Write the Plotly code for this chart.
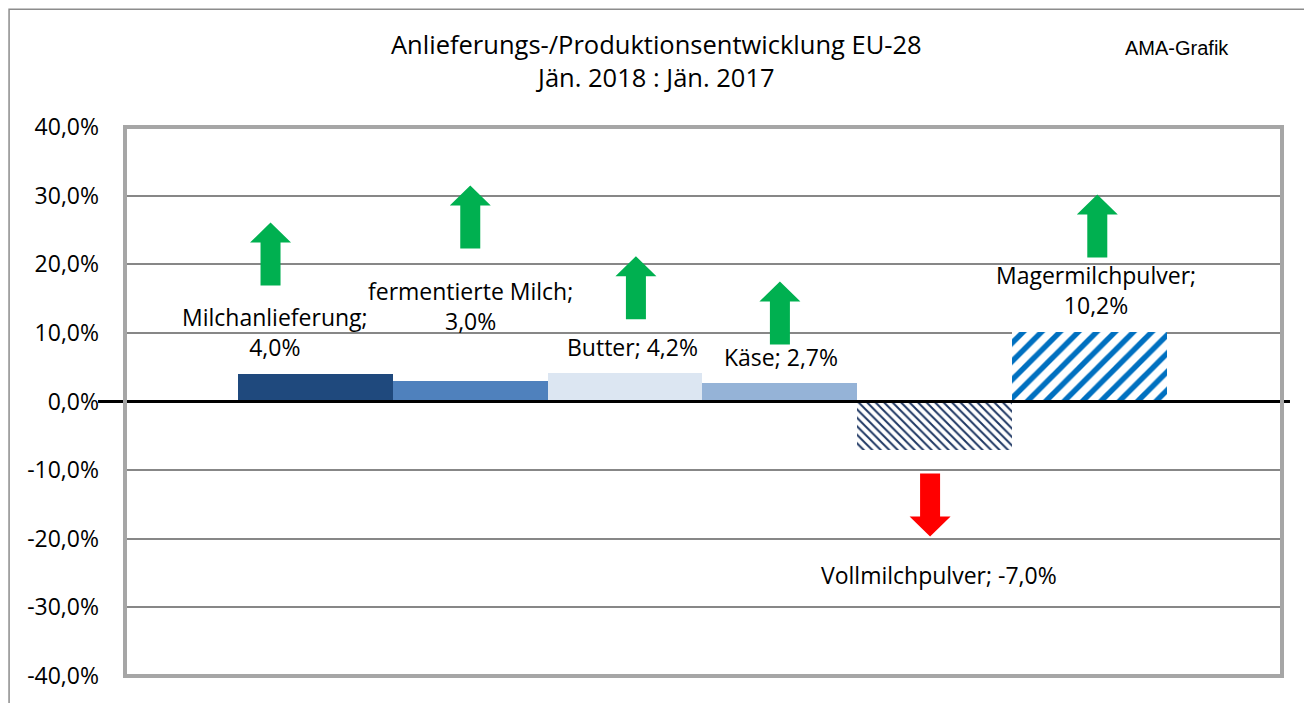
import plotly.graph_objects as go

# data
produkte = ["Milchanlieferung", "fermentierte Milch", "Butter", "Käse",
            "Vollmilchpulver", "Magermilchpulver"]
veraenderung = [0.040, 0.030, 0.042, 0.027, -0.070, 0.102]
label_text = ["Milchanlieferung;<br>4,0%", "fermentierte Milch;<br>3,0%",
              "Butter; 4,2%", "Käse; 2,7%", "Vollmilchpulver; -7,0%",
              "Magermilchpulver;<br>10,2%"]
y_ticks = [-0.4, -0.3, -0.2, -0.1, 0.0, 0.1, 0.2, 0.3, 0.4]
y_ticktext = ["-40,0%", "-30,0%", "-20,0%", "-10,0%", "0,0%",
              "10,0%", "20,0%", "30,0%", "40,0%"]

farben = ["#1F497D", "#4F81BD", "#DCE6F2", "#95B3D7", "#FFFFFF", "#FFFFFF"]
muster = ["", "", "", "", "\\", "/"]
muster_fg = ["#1F497D", "#4F81BD", "#DCE6F2", "#95B3D7", "#1F3864", "#0070C0"]
muster_size = [8, 8, 8, 8, 6, 13]
muster_sol = [0.3, 0.3, 0.3, 0.3, 0.33, 0.42]

# manually placed labels / arrows (offset from bar centre, y position)
label_dx = [-0.26, 0.0, 0.05, 0.01, 0.03, 0.04]
label_y = [0.102, 0.139, 0.079, 0.065, -0.253, 0.163]
pfeil_dx = [-0.29, 0.0, 0.07, 0.0, -0.03, 0.05]
pfeil_y = [0.169, 0.223, 0.120, 0.083, -0.105, 0.210]

x = list(range(len(produkte)))

fig = go.Figure()
for i in x:
    if muster[i]:
        marker = dict(color=farben[i], line=dict(width=0),
                      pattern=dict(shape=muster[i], fgcolor=muster_fg[i],
                                   bgcolor=farben[i], size=muster_size[i],
                                   solidity=muster_sol[i], fgopacity=1))
    else:
        marker = dict(color=farben[i], line=dict(width=0))
    fig.add_trace(go.Bar(x=[x[i]], y=[veraenderung[i]], width=1, marker=marker,
                         name=produkte[i], showlegend=False))

font = "Open Sans"
for i, t in enumerate(label_text):
    fig.add_annotation(x=x[i] + label_dx[i], y=label_y[i], text=t,
                       showarrow=False, xref="x", yref="y",
                       font=dict(family=font, size=23, color="#000000"))

up = "M -10 0 L 10 0 L 10 43 L 20.5 43 L 0 63 L -20.5 43 L -10 43 Z"
down = "M -10 0 L 10 0 L 10 -43 L 20.5 -43 L 0 -63 L -20.5 -43 L -10 -43 Z"
for i, v in enumerate(veraenderung):
    fig.add_shape(type="path", xref="x", yref="y",
                  xsizemode="pixel", ysizemode="pixel",
                  xanchor=x[i] + pfeil_dx[i], yanchor=pfeil_y[i],
                  path=up if v >= 0 else down,
                  fillcolor="#00B050" if v >= 0 else "#FF0000",
                  line=dict(width=0), layer="above")

# zero line sticking out of the plot area
fig.add_shape(type="line", xref="paper", yref="y", x0=-0.0233, x1=1.0069,
              y0=0, y1=0, line=dict(color="#000000", width=3), layer="above")
# plot frame
fig.add_shape(type="rect", xref="paper", yref="paper", x0=0, x1=1, y0=0, y1=1,
              line=dict(color="#A6A6A6", width=4), layer="above")
# outer border
fig.add_shape(type="rect", xref="paper", yref="paper",
              x0=-0.1002, x1=1.0242, y0=-0.2, y1=1.2146,
              line=dict(color="#8C8C8C", width=1.5), layer="below")

fig.add_annotation(x=0.4594, y=1.1216, xref="paper", yref="paper",
                   text="Anlieferungs-/Produktionsentwicklung EU-28<br>Jän. 2018 : Jän. 2017",
                   showarrow=False, xanchor="center", yanchor="middle",
                   font=dict(family=font, size=25.5, color="#000000"))
fig.add_annotation(x=0.9093, y=1.1434, xref="paper", yref="paper",
                   text="AMA-Grafik", showarrow=False,
                   xanchor="center", yanchor="middle",
                   font=dict(family="Liberation Sans", size=20, color="#000000"))

fig.update_layout(
    width=1304, height=695,
    margin=dict(l=117, r=30, t=119, b=25),
    paper_bgcolor="white", plot_bgcolor="white",
    barmode="overlay", bargap=0,
    xaxis=dict(range=[-1.23, 6.243], showticklabels=False, showgrid=False,
               zeroline=False, ticks=""),
    yaxis=dict(range=[-0.4, 0.4], tickvals=y_ticks, ticktext=y_ticktext,
               showgrid=True, gridcolor="#878787", gridwidth=1.5,
               zeroline=False, ticks="", ticklabelstandoff=25,
               tickfont=dict(family=font, size=23, color="#000000")),
)

fig.write_html("out.html")
